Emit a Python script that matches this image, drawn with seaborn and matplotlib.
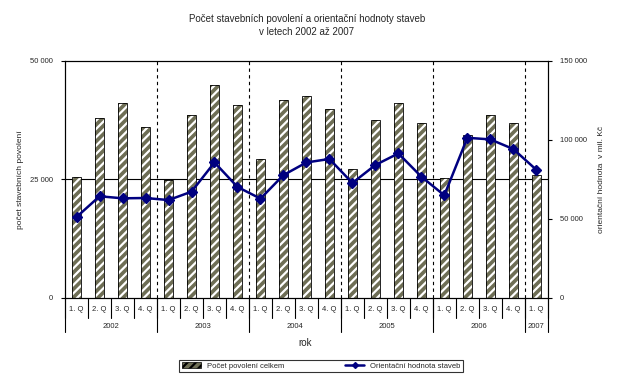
import numpy as np
import pandas as pd
import matplotlib
matplotlib.use('Agg')
import matplotlib.pyplot as plt
import seaborn as sns
from matplotlib.lines import Line2D
from matplotlib.patches import Patch

# data
years = ['2002', '2003', '2004', '2005', '2006', '2007']
quarters_per_year = [4, 4, 4, 4, 4, 1]
quarter_labels = ['1. Q', '2. Q', '3. Q', '4. Q'] * 5 + ['1. Q']
povoleni = [25500, 37900, 41100, 36000,
            24800, 38600, 44900, 40700,
            29300, 41700, 42600, 39800,
            27200, 37500, 41100, 36900,
            25300, 34300, 38600, 36900,
            25900]
hodnota = [51200, 64300, 63000, 63200,
           61900, 67200, 85700, 70200,
           62800, 77700, 85700, 87900,
           72700, 84100, 91400, 76700,
           64900, 101300, 100300, 94200,
           81100]

df = pd.DataFrame({'q': [f'{i}' for i in range(len(povoleni))],
                   'povoleni': povoleni, 'hodnota': hodnota})

sns.set_style('white')
plt.rcParams['font.family'] = ['Liberation Sans', 'DejaVu Sans']
plt.rcParams['hatch.linewidth'] = 1.6

bar_col = '#6e6e55'
line_col = '#000080'

fig = plt.figure(figsize=(6.26, 3.78), dpi=100)
ax = fig.add_axes([0.104, 0.212, 0.771, 0.627])

ax.axhline(25000, color='black', lw=0.8, zorder=0)

sns.barplot(data=df, x='q', y='povoleni', ax=ax, color=bar_col, width=0.4,
            saturation=1, zorder=2)
for p in ax.patches:
    p.set_hatch('////')
    p.set_edgecolor('white')
    p.set_linewidth(0)
x = np.arange(len(povoleni))
ax.bar(x, povoleni, width=0.4, fill=False, edgecolor='black', lw=0.6, zorder=3)

n = len(povoleni)
ax.set_xlim(-0.5, n - 0.5)
ax.set_ylim(0, 50000)
ax.set_yticks([0, 25000, 50000])
ax.set_yticklabels(['0', '25 000', '50 000'])

# dashed year boundaries
bounds = np.cumsum(quarters_per_year)[:-1] - 0.5
for b in bounds:
    ax.axvline(b, color='black', lw=0.8, ls=(0, (3, 3)), zorder=1)

ax2 = ax.twinx()
ax2.plot(x, hodnota, color=line_col, lw=1.8, marker='D', markersize=5,
         markerfacecolor=line_col, markeredgecolor=line_col)
ax2.set_ylim(0, 150000)
ax2.set_yticks([0, 50000, 100000, 150000])
ax2.set_yticklabels(['0', '50 000', '100 000', '150 000'])

for a in (ax, ax2):
    for s in a.spines.values():
        s.set_visible(True)
        s.set_color('black')
        s.set_linewidth(0.8)
    a.tick_params(axis='y', labelsize=5.5, length=3, width=0.8, color='black', pad=6)

ax.tick_params(axis='y', left=True, direction='out')
ax2.tick_params(axis='y', right=True, direction='out')

# two-level category axis
ax.set_xticks(x)
ax.set_xticklabels(quarter_labels, fontsize=5.5)
ax.tick_params(axis='x', length=0, pad=6)
ax.set_xlabel('')
ax.set_ylabel('počet stavebních povolení', fontsize=6, labelpad=4)
ax2.set_ylabel('orientační hodnota  v mil. Kč', fontsize=6, labelpad=8)

trans = ax.get_xaxis_transform()
for b in np.arange(n + 1) - 0.5:
    ax.add_line(Line2D([b, b], [0, -0.085], transform=trans, color='black',
                       lw=0.8, clip_on=False))
year_edges = np.concatenate([[-0.5], np.cumsum(quarters_per_year) - 0.5])
for b in year_edges:
    ax.add_line(Line2D([b, b], [0, -0.145], transform=trans, color='black',
                       lw=0.8, clip_on=False))
for i, yr in enumerate(years):
    cx = (year_edges[i] + year_edges[i + 1]) / 2
    ax.text(cx, -0.12, yr, transform=trans, ha='center', va='center', fontsize=5.5)

fig.text(0.487, 0.092, 'rok', ha='center', va='center', fontsize=7)
fig.text(0.49, 0.933, 'Počet stavebních povolení a orientační hodnoty staveb\nv letech 2002 až 2007',
         ha='center', va='center', fontsize=7, linespacing=1.4)

handles = [Patch(facecolor=bar_col, edgecolor='black', hatch='////', lw=0.5),
           Line2D([0], [0], color=line_col, lw=1.8, marker='D', markersize=3)]
leg = fig.legend(handles, ['Počet povolení celkem', 'Orientační hodnota staveb'],
                 loc='center', bbox_to_anchor=(0.513, 0.032), ncol=2, fontsize=5.5,
                 frameon=True, fancybox=False, edgecolor='black', columnspacing=8,
                 handlelength=2.5, borderpad=0.3)
leg.get_frame().set_linewidth(0.8)

fig.savefig('out.png', dpi=100)
